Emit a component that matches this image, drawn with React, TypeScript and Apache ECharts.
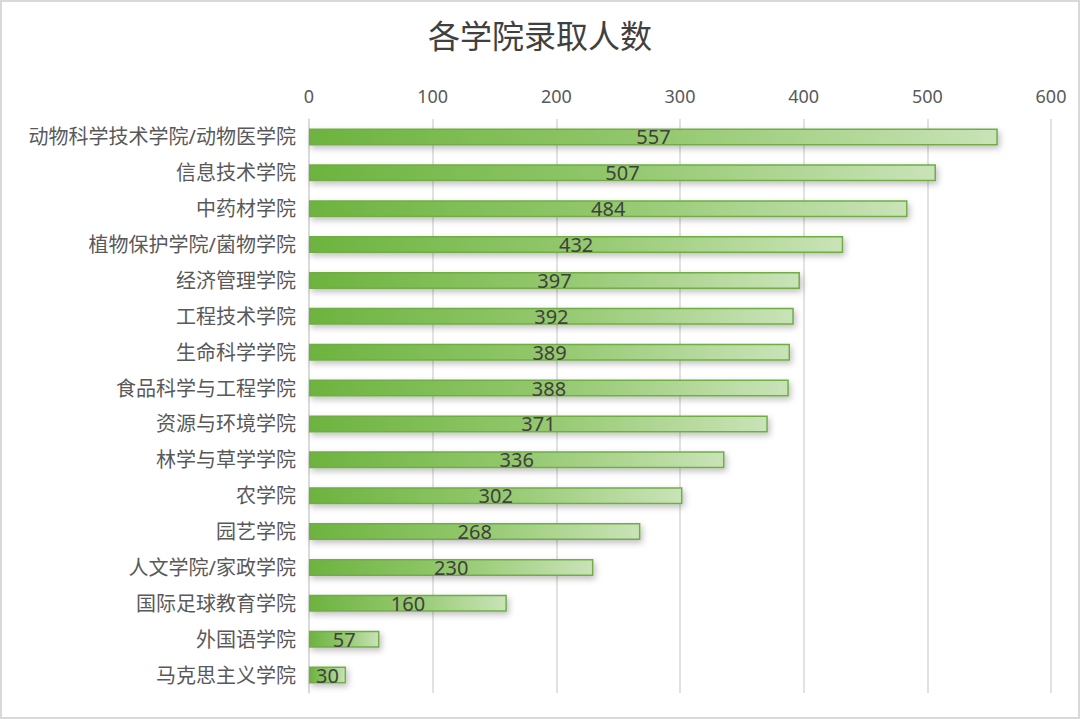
import React, { useEffect, useRef } from 'react';
import * as echarts from 'echarts';

const colleges = [
  '动物科学技术学院/动物医学院',
  '信息技术学院',
  '中药材学院',
  '植物保护学院/菌物学院',
  '经济管理学院',
  '工程技术学院',
  '生命科学学院',
  '食品科学与工程学院',
  '资源与环境学院',
  '林学与草学学院',
  '农学院',
  '园艺学院',
  '人文学院/家政学院',
  '国际足球教育学院',
  '外国语学院',
  '马克思主义学院',
];

const admitted = [557, 507, 484, 432, 397, 392, 389, 388, 371, 336, 302, 268, 230, 160, 57, 30];

const FONT = '"Noto Sans", "Noto Sans CJK SC", sans-serif';

const App: React.FC = () => {
  const chartRef = useRef<HTMLDivElement | null>(null);

  useEffect(() => {
    if (!chartRef.current) return;
    const chart = echarts.init(chartRef.current, undefined, { renderer: 'svg' });

    chart.setOption({
      animation: false,
      backgroundColor: '#ffffff',
      title: {
        text: '各学院录取人数',
        left: 'center',
        top: 12,
        textStyle: { fontFamily: FONT, fontSize: 32, fontWeight: 'normal', color: '#404040' },
      },
      grid: { left: 307, right: 27, top: 117, bottom: 24 },
      xAxis: {
        type: 'value',
        position: 'top',
        min: 0,
        max: 600,
        interval: 100,
        axisLine: { show: false },
        axisTick: { show: false },
        axisLabel: { fontFamily: FONT, fontSize: 18, color: '#595959', margin: 14 },
        splitLine: { lineStyle: { color: '#d9d9d9', width: 1.5 } },
      },
      yAxis: {
        type: 'category',
        inverse: true,
        data: colleges,
        axisLine: { lineStyle: { color: '#d9d9d9', width: 1.5 } },
        axisTick: { show: false },
        axisLabel: { fontFamily: FONT, fontSize: 20, color: '#595959', margin: 13 },
      },
      series: [
        {
          type: 'bar',
          data: admitted,
          barWidth: 17,
          itemStyle: {
            color: new echarts.graphic.LinearGradient(0, 0, 1, 0, [
              { offset: 0, color: '#6db33f' },
              { offset: 0.5, color: '#93c86d' },
              { offset: 1, color: '#c9e3b8' },
            ]),
            borderColor: '#70ad47',
            borderWidth: 1.5,
            shadowColor: 'rgba(0,0,0,0.25)',
            shadowBlur: 6,
            shadowOffsetX: 2,
            shadowOffsetY: 3,
          },
          label: {
            show: true,
            position: 'inside',
            fontFamily: FONT,
            fontSize: 20,
            color: '#404040',
          },
        },
      ],
    });

    return () => {
      chart.dispose();
    };
  }, []);

  return (
    <div
      style={{
        position: 'fixed',
        left: 0,
        top: 0,
        width: 1080,
        height: 719,
        boxSizing: 'border-box',
        border: '2px solid #d9d9d9',
        background: '#fff',
      }}
    >
      <div ref={chartRef} style={{ width: '100%', height: '100%' }} />
    </div>
  );
};

export default App;
